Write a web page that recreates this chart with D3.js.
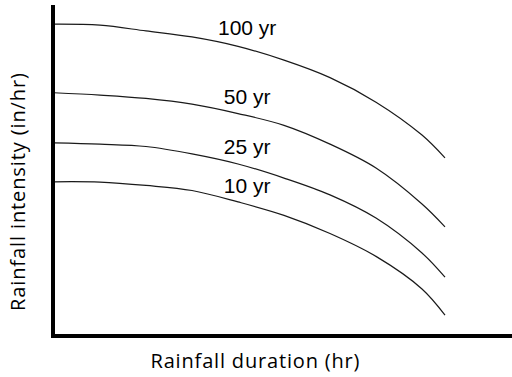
<!DOCTYPE html>
<html><head><meta charset="utf-8">
<script src="https://cdn.jsdelivr.net/npm/d3@7"></script>
<style>body{margin:0;background:#fff}svg{display:block}</style>
</head><body>
<svg id="chart" width="512" height="377"></svg>
<script>
// Durations (nominal units, no ticks shown in the original)
const durations = [0, 10, 20, 30, 40, 50, 60, 70, 80, 85];
const seriesNames = ["100 yr", "50 yr", "25 yr", "10 yr"];
const intensity100 = [92.8, 92.5, 90.8, 89.0, 86.2, 82.1, 76.9, 69.6, 59.8, 53.0];
const intensity50  = [72.4, 71.7, 70.7, 69.0, 66.2, 62.7, 57.1, 50.0, 39.3, 32.5];
const intensity25  = [57.5, 57.1, 56.4, 54.2, 51.2, 47.0, 42.0, 35.1, 24.7, 17.5];
const intensity10  = [45.9, 45.8, 44.8, 43.3, 39.9, 35.9, 30.5, 23.7, 14.0, 6.2];
const xTitle = "Rainfall duration (hr)";
const yTitle = "Rainfall intensity (in/hr)";
const labelDuration = 42;

const seriesValues = [intensity100, intensity50, intensity25, intensity10];

const svg = d3.select("#chart");
const x = d3.scaleLinear().domain([0, 100]).range([54, 514]);
const y = d3.scaleLinear().domain([0, 100]).range([336, 0]);

const line = d3.line()
  .x(d => x(d[0]))
  .y(d => y(d[1]))
  .curve(d3.curveCatmullRom.alpha(0.5));

seriesValues.forEach((vals, i) => {
  const pts = durations.map((d, j) => [d, vals[j]]);
  svg.append("path")
    .attr("d", line(pts))
    .attr("fill", "none")
    .attr("stroke", "#1a1a1a")
    .attr("stroke-width", 1.2);
  svg.append("text")
    .attr("x", x(labelDuration))
    .attr("y", y(vals[0]) + 11)
    .attr("text-anchor", "middle")
    .attr("font-family", "Liberation Sans, Arial, sans-serif")
    .attr("font-size", 21)
    .attr("fill", "#000")
    .text(seriesNames[i]);
});

// Axes (no ticks)
svg.append("line")
  .attr("x1", x(0) - 1).attr("x2", x(0) - 1)
  .attr("y1", y(98.5)).attr("y2", y(0) + 2)
  .attr("stroke", "#000").attr("stroke-width", 4);
svg.append("line")
  .attr("x1", x(0) - 3).attr("x2", 512)
  .attr("y1", y(0)).attr("y2", y(0))
  .attr("stroke", "#000").attr("stroke-width", 4);

svg.append("text")
  .attr("x", 255)
  .attr("y", 367.5)
  .attr("text-anchor", "middle")
  .attr("font-family", "Open Sans, sans-serif")
  .attr("font-size", 20)
  .attr("textLength", 209)
  .attr("lengthAdjust", "spacing")
  .attr("fill", "#000")
  .text(xTitle);

svg.append("text")
  .attr("transform", "translate(25,192) rotate(-90)")
  .attr("text-anchor", "middle")
  .attr("font-family", "Open Sans, sans-serif")
  .attr("font-size", 20)
  .attr("textLength", 238)
  .attr("lengthAdjust", "spacing")
  .attr("fill", "#000")
  .text(yTitle);
</script>
</body></html>
